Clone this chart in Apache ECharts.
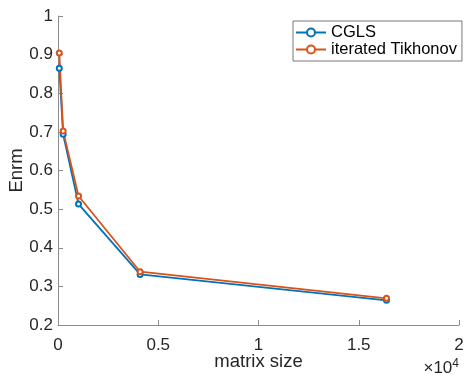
<!DOCTYPE html>
<html>
<head>
<meta charset="utf-8">
<script src="https://cdn.jsdelivr.net/npm/echarts@6/dist/echarts.min.js"></script>
<style>
html, body { margin: 0; padding: 0; background: #fff; }
#chart { width: 464px; height: 375px; }
</style>
</head>
<body>
<div id="chart"></div>
<script>
var matrixSizes = [64, 256, 1024, 4096, 16384];
var cglsErr = [0.865, 0.694, 0.513, 0.331, 0.264];
var tikhErr = [0.904, 0.702, 0.534, 0.338, 0.269];
var xTicks = [0, 0.5, 1, 1.5, 2];
var yTicks = [0.2, 0.3, 0.4, 0.5, 0.6, 0.7, 0.8, 0.9, 1];

function pairs(vals) {
    return matrixSizes.map(function (n, i) { return [n / 10000, vals[i]]; });
}

var myChart = echarts.init(document.getElementById('chart'));
var axisColor = '#262626';
var font = 'Liberation Sans, Arial, sans-serif';
var option = {
    backgroundColor: '#fff',
    animation: false,
    textStyle: { fontFamily: font },
    grid: { left: 58, right: 5, top: 16, bottom: 50, outerBoundsMode: 'none' },
    legend: {
        orient: 'vertical',
        left: 293,
        top: 21,
        itemWidth: 30,
        itemHeight: 10,
        itemGap: 0,
        padding: [3, 5, 3, 2],
        borderColor: '#555',
        borderWidth: 0.8,
        backgroundColor: '#fff',
        textStyle: { color: '#000', fontSize: 16.5, lineHeight: 17 },
        data: ['CGLS', 'iterated Tikhonov']
    },
    xAxis: {
        type: 'value',
        min: xTicks[0],
        max: xTicks[xTicks.length - 1],
        interval: 0.5,
        axisLine: { lineStyle: { color: '#8c8c8c', width: 1 } },
        axisTick: { inside: true, length: 5, lineStyle: { color: '#8c8c8c' } },
        splitLine: { show: false },
        axisLabel: { color: axisColor, fontSize: 17, margin: 12 },
        name: 'matrix size',
        nameLocation: 'middle',
        nameGap: 27,
        nameMoveOverlap: false,
        nameTextStyle: { color: axisColor, fontSize: 18.5 }
    },
    yAxis: {
        type: 'value',
        min: yTicks[0],
        max: yTicks[yTicks.length - 1],
        interval: 0.1,
        axisLine: { show: true, lineStyle: { color: '#8c8c8c', width: 1 } },
        axisTick: { show: true, inside: true, length: 5, lineStyle: { color: '#8c8c8c' } },
        splitLine: { show: false },
        axisLabel: {
            color: axisColor, fontSize: 17, margin: 5,
            formatter: function (v) { return String(Number(v.toFixed(1))); }
        },
        name: 'Enrm',
        nameLocation: 'middle',
        nameGap: 32,
        nameMoveOverlap: false,
        nameTextStyle: { color: axisColor, fontSize: 18.5 }
    },
    graphic: [{
        type: 'text',
        right: 5,
        top: 358,
        style: {
            text: '×10{s|4}',
            fill: axisColor,
            fontSize: 17,
            fontFamily: font,
            rich: { s: { fontSize: 12, verticalAlign: 'top', padding: [0, 0, 9, 0], fill: axisColor, fontFamily: font } }
        }
    }],
    series: [{
        name: 'CGLS',
        type: 'line',
        data: pairs(cglsErr),
        symbol: 'emptyCircle',
        symbolSize: 5,
        color: '#0072BD',
        lineStyle: { width: 1.8 },
        itemStyle: { borderWidth: 1.5 }
    }, {
        name: 'iterated Tikhonov',
        type: 'line',
        data: pairs(tikhErr),
        symbol: 'emptyCircle',
        symbolSize: 5,
        color: '#D95319',
        lineStyle: { width: 1.8 },
        itemStyle: { borderWidth: 1.5 }
    }]
};
myChart.setOption(option);
</script>
</body>
</html>
